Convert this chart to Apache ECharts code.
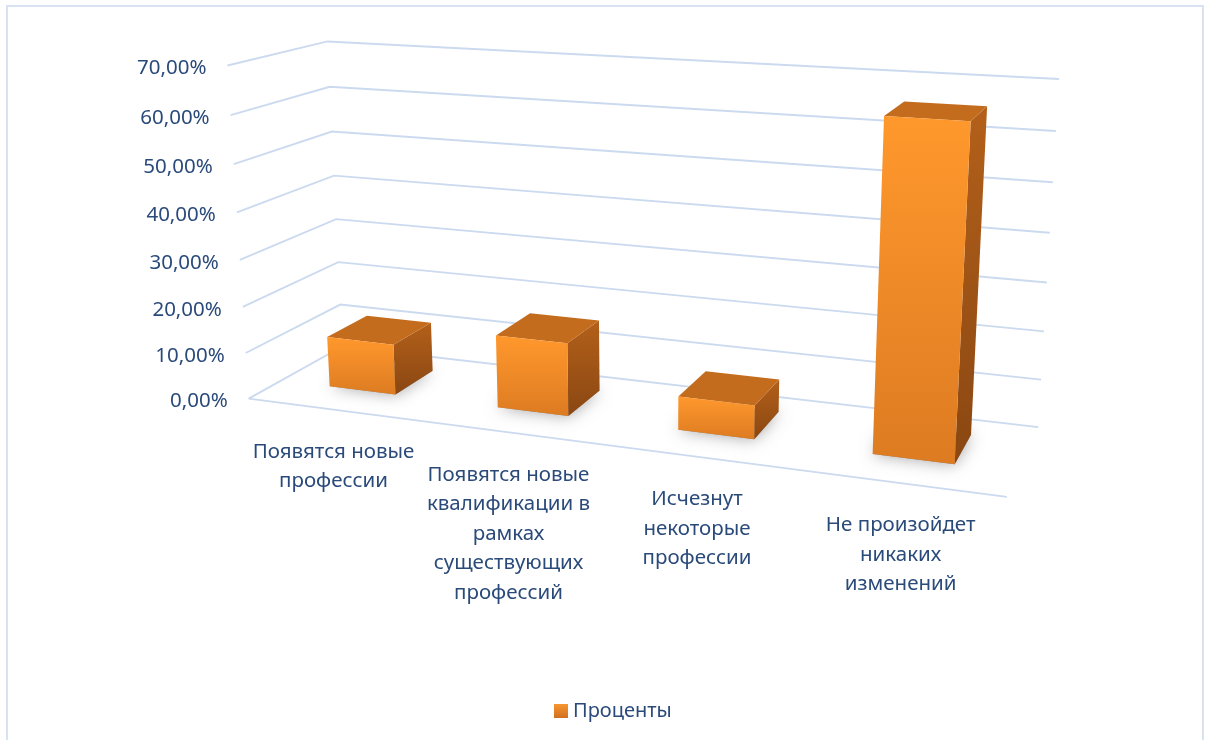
<!DOCTYPE html>
<html><head><meta charset="utf-8">
<script src="https://cdn.jsdelivr.net/npm/echarts@6/dist/echarts.min.js"></script>
<style>html,body{margin:0;padding:0;background:#fff}#c{width:1205px;height:740px}</style>
</head><body><div id="c"></div>
<script>
// ---- data ----
const categories = ['Появятся новые\nпрофессии', 'Появятся новые\nквалификации в\nрамках\nсуществующих\nпрофессий', 'Исчезнут\nнекоторые\nпрофессии', 'Не произойдет\nникаких\nизменений'];
const values = [11, 15.5, 7, 65.5];
const yTicks = [0, 10, 20, 30, 40, 50, 60, 70];
const yMax = 70;
const seriesName = 'Проценты';

// ---- 3D camera: fitted from where the plot box corners (u, depth, height) appear on screen ----
const BOX_CORNERS = [
  [[0, 0, 0], [248, 398]], [[1, 0, 0], [1007, 497]], [[1, 1, 0], [1038, 427]], [[0, 1, 0], [343, 347]],
  [[0, 0, 1], [228, 66]], [[1, 1, 1], [1059, 79]], [[0, 1, 1], [327, 41]]
];
const BAR_FRAC = 0.40, D0 = 0.33, D1 = 0.77;
const TXT = '#2A4A7A', GRID = '#CCDAEF';
const FONT = '"Noto Sans", sans-serif';

function solve(A, b) {
  const n = b.length, M = A.map((r, i) => r.concat([b[i]]));
  for (let c = 0; c < n; c++) {
    let p = c; for (let r = c + 1; r < n; r++) if (Math.abs(M[r][c]) > Math.abs(M[p][c])) p = r;
    [M[c], M[p]] = [M[p], M[c]];
    for (let r = 0; r < n; r++) if (r !== c) { const f = M[r][c] / M[c][c]; for (let k = c; k <= n; k++) M[r][k] -= f * M[c][k]; }
  }
  return M.map((r, i) => r[n] / r[i]);
}
function fitCamera(pts) {
  const S = 1000, rows = [], rhs = [];
  pts.forEach(([[X, Y, Z], [x0, y0]]) => {
    const x = x0 / S, y = y0 / S;
    rows.push([X, Y, Z, 1, 0, 0, 0, 0, -x * X, -x * Y, -x * Z]); rhs.push(x);
    rows.push([0, 0, 0, 0, X, Y, Z, 1, -y * X, -y * Y, -y * Z]); rhs.push(y);
  });
  const AtA = [], Atb = [];
  for (let i = 0; i < 11; i++) {
    AtA.push([]); let s = 0;
    for (let j = 0; j < 11; j++) { let t = 0; rows.forEach(r => t += r[i] * r[j]); AtA[i].push(t); }
    rows.forEach((r, k) => s += r[i] * rhs[k]); Atb.push(s);
  }
  const p = solve(AtA, Atb);
  return (X, Y, Z) => {
    const w = p[8] * X + p[9] * Y + p[10] * Z + 1;
    return [S * (p[0] * X + p[1] * Y + p[2] * Z + p[3]) / w, S * (p[4] * X + p[5] * Y + p[6] * Z + p[7]) / w];
  };
}
const P = fitCamera(BOX_CORNERS);

function norm(cs, pt) { return [(pt[0] - cs.x) / cs.width, (cs.y + cs.height - pt[1]) / cs.height]; }

const chart = echarts.init(document.getElementById('c'));
const lin = (c1, c2) => ({ type: 'linear', x: 0, y: 0, x2: 0, y2: 1, colorStops: [{ offset: 0, color: c1 }, { offset: 1, color: c2 }] });

chart.setOption({
  animation: false,
  graphic: [{ type: 'rect', shape: { x: 7, y: 6, width: 1196, height: 760 }, style: { fill: 'none', stroke: '#D9E2F2', lineWidth: 2 }, silent: true }],
  legend: { data: [seriesName], left: 549, top: 696, icon: 'rect', itemWidth: 14, itemHeight: 14, itemGap: 6,
    textStyle: { fontSize: 20, color: TXT, fontFamily: FONT } },
  grid: { left: 0, right: 0, top: 0, bottom: 0 },
  xAxis: { type: 'category', data: categories, show: false },
  yAxis: { type: 'value', min: 0, max: yMax, interval: 10, show: false },
  series: [
    { type: 'custom', name: 'frame', silent: true, z: 1,
      data: yTicks.map(v => [0, v]),
      renderItem: (params, api) => {
        const cs = params.coordSys;
        const z = norm(cs, api.coord([0, api.value(1)]))[1];
        const fl = P(0, 0, z), bl = P(0, 1, z), br = P(1, 1, z);
        const ch = [
          { type: 'polyline', shape: { points: [fl, bl, br] }, style: { stroke: GRID, lineWidth: 1.9, fill: null } },
          { type: 'text', style: { text: api.value(1).toFixed(2).replace('.', ',') + '%', x: fl[0] - 21, y: fl[1] + 3,
            align: 'right', verticalAlign: 'middle', fill: TXT, font: '20.5px ' + FONT } }
        ];
        if (api.value(1) === 0) {
          const fr = P(1, 0, 0);
          ch.push({ type: 'line', shape: { x1: fl[0], y1: fl[1], x2: fr[0], y2: fr[1] }, style: { stroke: GRID, lineWidth: 1.9 } });
        }
        return { type: 'group', children: ch };
      } },
    { type: 'custom', name: 'labels', silent: true, z: 1,
      data: categories.map((c, i) => [i, 0]),
      renderItem: (params, api) => {
        const cs = params.coordSys;
        const u = norm(cs, api.coord([api.value(0), 0]))[0];
        const p = P(u, 0, 0);
        return { type: 'text', style: { text: categories[params.dataIndex], x: p[0] + 2, y: p[1] + 28, align: 'center', verticalAlign: 'top',
          fill: TXT, font: '20.5px ' + FONT, lineHeight: 29.5 } };
      } },
    { type: 'custom', name: seriesName, z: 2,
      itemStyle: { color: lin('#F7962F', '#D0701F') },
      data: values.map((v, i) => [i, v]),
      renderItem: (params, api) => {
        const cs = params.coordSys;
        const n = norm(cs, api.coord([api.value(0), api.value(1)]));
        const uc = n[0], zt = n[1];
        const hw = api.size([1, 0])[0] / cs.width * BAR_FRAC / 2;
        const uL = uc - hw, uR = uc + hw;
        const f0 = P(uL, D0, 0), f1 = P(uR, D0, 0), f2 = P(uR, D0, zt), f3 = P(uL, D0, zt);
        const b1 = P(uR, D1, 0), b2 = P(uR, D1, zt), b3 = P(uL, D1, zt), b0 = P(uL, D1, 0);
        return { type: 'group', children: [
          { type: 'polygon', shape: { points: [f0, f1, b1, b0] }, style: { fill: 'rgba(70,70,70,0.5)', shadowBlur: 16, shadowColor: 'rgba(0,0,0,0.7)' } },
          { type: 'polygon', shape: { points: [f1, b1, b2, f2] }, style: { fill: lin('#B3601A', '#8A4712') } },
          { type: 'polygon', shape: { points: [f3, f2, b2, b3] }, style: { fill: '#C46C1D' } },
          { type: 'polygon', shape: { points: [f0, f1, f2, f3] }, style: { fill: lin('#FF982C', '#DD7B22') } }
        ] };
      } }
  ]
});
</script></body></html>
